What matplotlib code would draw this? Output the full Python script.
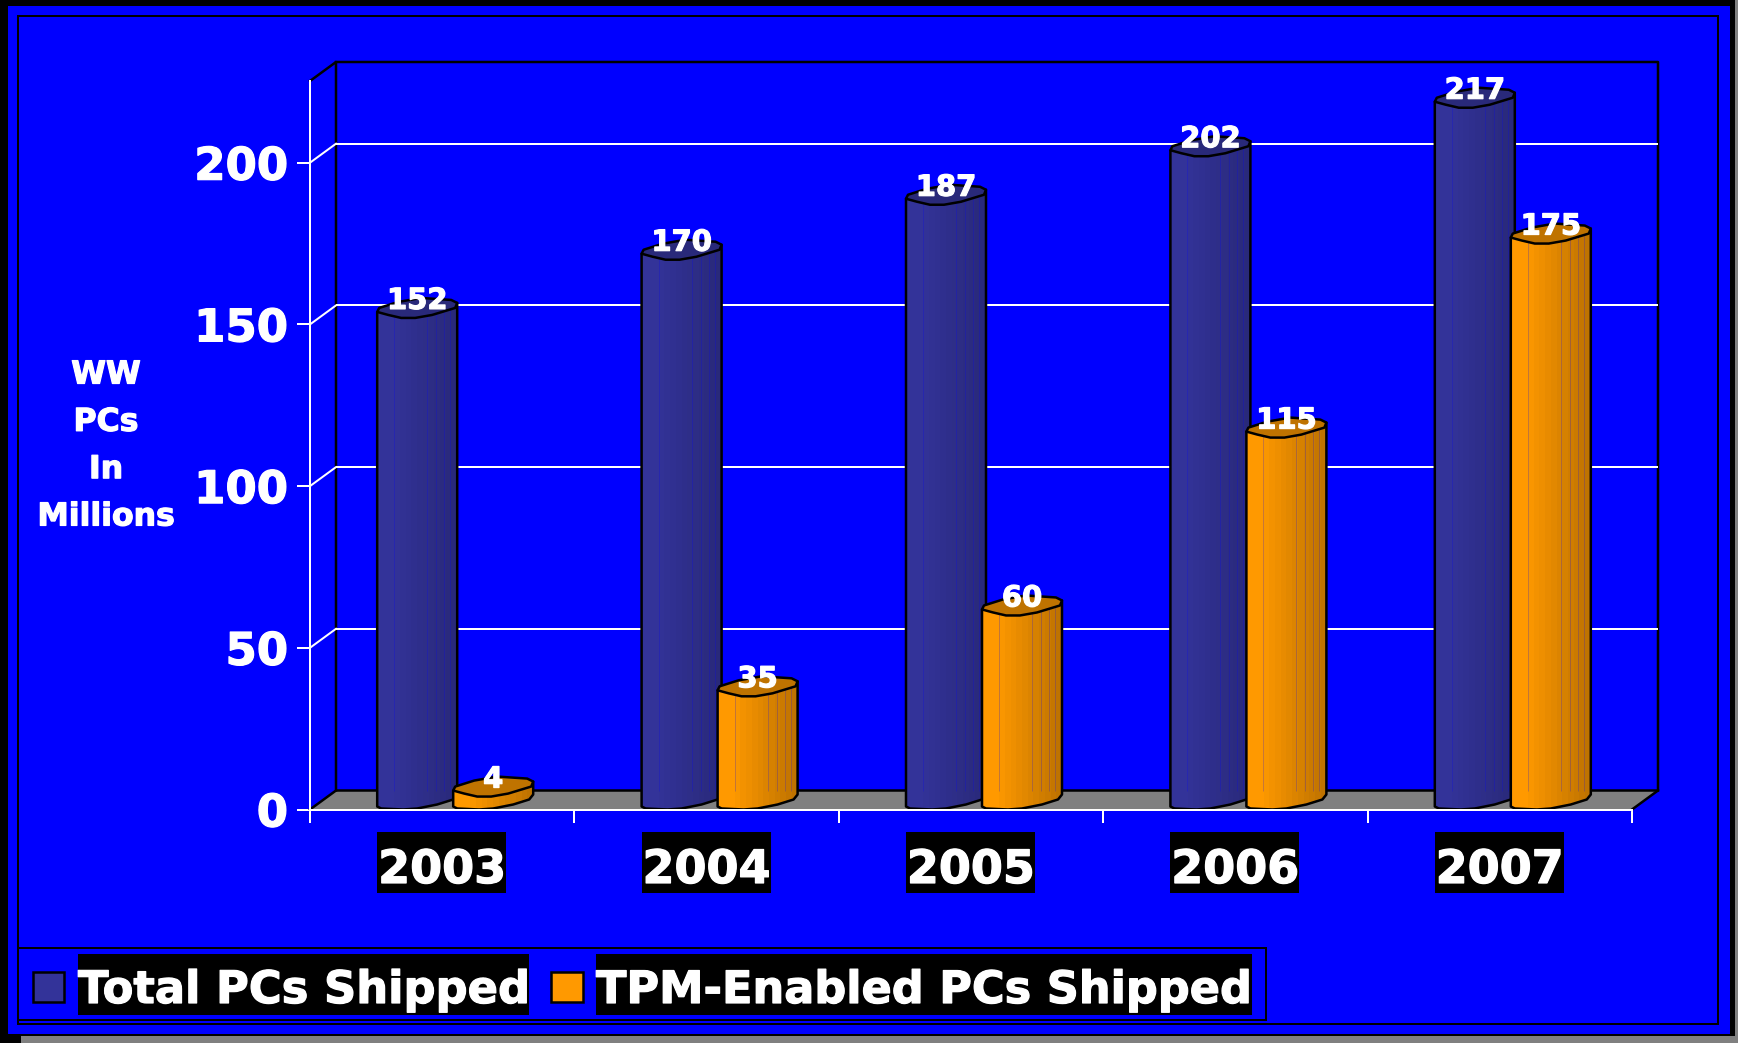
import numpy as np
import matplotlib
matplotlib.use('Agg')
import matplotlib.pyplot as plt
import matplotlib.patheffects as pe
from matplotlib.patches import Rectangle, Polygon
from matplotlib.transforms import Affine2D, offset_copy

years = ['2003', '2004', '2005', '2006', '2007']
total_pcs = [152, 170, 187, 202, 217]
tpm_pcs = [4, 35, 60, 115, 175]
y_ticks = [0, 50, 100, 150, 200]
legend_labels = ['Total PCs Shipped', 'TPM-Enabled PCs Shipped']
y_title = 'WW\nPCs\nIn\nMillions'

W, H = 1738, 1043
AX_L, AX_R, AX_B, AX_T = 310, 1632, 809.5, 81
DX, DY = 26, 19
Y_SCALE = 3.234
X_SCALE = (AX_R - AX_L) / len(years)
BAR_W = 80

# outline of a bar's cap and foot, in pixels from its front left corner
CAP = [(0, -6), (2, -10), (21, -16), (44, -20), (74, -18), (80, -15), (78, -10),
       (55, -3), (38, 0), (24, 0), (11, -3)]
FOOT = [(0, -3), (4, -1), (26, 0), (40, -1), (60, -5), (76, -10), (80, -15)]
SEAMS = [17, 50, 59, 67, 73]

plt.rcParams['font.family'] = ['DejaVu Sans']
plt.rcParams['font.weight'] = 'bold'
HEAVY = [pe.withStroke(linewidth=1.2, foreground='white')]

fig = plt.figure(figsize=(W / 72, H / 72), dpi=72, facecolor='#808080')
PX = Affine2D().scale(1, -1).translate(0, H)


def box(x0, y0, x1, y1, **kw):
    fig.add_artist(Rectangle((x0, y0), x1 - x0, y1 - y0, transform=PX, zorder=1, **kw))


# slide frame
box(0, 0, 1735, 1036, fc='black', ec='none')
box(0, 1036, 21, H, fc='black', ec='none')
box(8, 6, 1730, 1034, fc='#0000FF', ec='none')
box(18, 16, 1718, 1024, fc='none', ec='black', lw=2)
box(18, 948, 1266, 1020, fc='none', ec='black', lw=2)

ax = fig.add_axes([AX_L / W, 1 - AX_B / H, (AX_R - AX_L) / W, (AX_B - AX_T) / H])
ax.set_zorder(2)
ax.patch.set_alpha(0)
ax.set_xlim(0, len(years))
ax.set_ylim(0, (AX_B - AX_T) / Y_SCALE)
for s in ['top', 'right']:
    ax.spines[s].set_visible(False)
for s in ['left', 'bottom']:
    ax.spines[s].set_color('white')
    ax.spines[s].set_linewidth(2)
    ax.spines[s].set_zorder(60)
ax.set_xticks(range(len(years) + 1))
ax.set_xticklabels([])
ax.set_yticks(y_ticks)
ax.set_yticklabels(y_ticks, fontsize=45, color='white', fontweight='bold', path_effects=HEAVY)
ax.tick_params(length=13, width=2, color='white', pad=9)

# back wall and floor
back = offset_copy(ax.transData, fig, x=DX, y=DY, units='dots')
ax.add_patch(Polygon([(AX_L, AX_B), (AX_L + DX, AX_B - DY), (AX_R + DX, AX_B - DY), (AX_R, AX_B)],
                     transform=PX, fc='#808080', ec='none', zorder=1, clip_on=False))
ax.plot([AX_L, AX_L + DX, AX_L + DX], [AX_T, AX_T - DY, AX_B - DY], color='black', lw=2.5,
        transform=PX, zorder=2, clip_on=False)
ax.plot([AX_L + DX, AX_R + DX, AX_R + DX, AX_R], [AX_T - DY, AX_T - DY, AX_B - DY, AX_B],
        color='black', lw=2.5, transform=PX, zorder=2, clip_on=False)
ax.plot([AX_L, AX_L + DX, AX_R + DX], [AX_B, AX_B - DY, AX_B - DY], color='black', lw=2.5,
        transform=PX, zorder=2, clip_on=False)
ax.hlines(y_ticks[1:], 0, len(years), colors='white', lw=2, transform=back, zorder=3, clip_on=False)
for v in y_ticks[1:]:
    ax.plot([0, DX / X_SCALE], [v, v + DY / Y_SCALE], color='white', lw=2, zorder=3, clip_on=False)


def to_data(left, base, pts):
    return [(left + x / X_SCALE, base - y / Y_SCALE) for x, y in pts]


def draw_bar(left, value, shades, cap_color, z):
    body = to_data(left, value, [(0, -6)]) + to_data(left, 0, FOOT) + to_data(left, value, [(80, -15)])
    outline = Polygon(body, closed=True, fc='none', ec='black', lw=2.5, zorder=z + 3, joinstyle='round')
    ax.add_patch(outline)
    w = BAR_W / X_SCALE / len(shades)
    lefts = [left + k * w for k in range(len(shades))]
    heights = [value + 22 / Y_SCALE] * len(shades)
    stripes = ax.bar(lefts, heights, width=w * 1.02, align='edge', color=shades, lw=0, zorder=z)
    for st in stripes:
        st.set_clip_path(outline)
    if value * Y_SCALE > DY:
        for s in SEAMS:
            ln = ax.vlines(left + s / X_SCALE, DY / Y_SCALE, value + 20 / Y_SCALE, colors='#0000FF',
                           lw=1, alpha=0.22, zorder=z + 1)
            ln.set_clip_path(outline)
    ax.add_patch(Polygon(to_data(left, value, CAP), closed=True, fc=cap_color, ec='black', lw=2.5,
                         zorder=z + 4, joinstyle='round'))
    ax.annotate(str(value), (left, value), xytext=(40, 9), textcoords='offset points', ha='center',
                va='baseline', fontsize=29, color='white', fontweight='bold', zorder=80,
                annotation_clip=False, path_effects=HEAVY)


def ramp(c0, c1, n=14):
    c0, c1 = np.array(matplotlib.colors.to_rgb(c0)), np.array(matplotlib.colors.to_rgb(c1))
    return [tuple(c0 + (c1 - c0) * max(0, (k - 2)) / (n - 3)) for k in range(n)]


blue_shades = ramp('#333399', '#29297A')
orange_shades = ramp('#FF9900', '#BF7300')
for i, (a, b) in enumerate(zip(total_pcs, tpm_pcs)):
    centre = i + 0.5
    draw_bar(centre - 65 / X_SCALE, a, blue_shades, '#29297A', 10 + i * 10)
    draw_bar(centre + 11 / X_SCALE, b, orange_shades, '#BF7300', 15 + i * 10)
    cx = AX_L + centre * X_SCALE
    box(cx - 65, 832, cx + 64, 893, fc='black', ec='none')
    ax.annotate(years[i], (centre, 0), xytext=(0, -73.5), textcoords='offset points', ha='center',
                va='baseline', fontsize=46, color='white', fontweight='bold', annotation_clip=False,
                path_effects=HEAVY)

# legend
box(33, 972, 64, 1002, fc='#333399', ec='black', lw=2.5)
box(78, 954, 529, 1015, fc='black', ec='none')
box(551, 972, 583, 1002, fc='#FF9900', ec='black', lw=2.5)
box(596, 954, 1252, 1015, fc='black', ec='none')
fig.text(78, 1003, legend_labels[0], transform=PX, fontsize=44.8, color='white', fontweight='bold',
         va='baseline', zorder=3, path_effects=HEAVY)
fig.text(596, 1003, legend_labels[1], transform=PX, fontsize=44.6, color='white', fontweight='bold',
         va='baseline', zorder=3, path_effects=HEAVY)

fig.text(106, 446, y_title, transform=PX, fontsize=31.5, color='white', fontweight='bold',
         ha='center', va='center', multialignment='center', linespacing=1.68, zorder=3,
         path_effects=HEAVY)

fig.savefig('out.png', dpi=72, facecolor=fig.get_facecolor())
